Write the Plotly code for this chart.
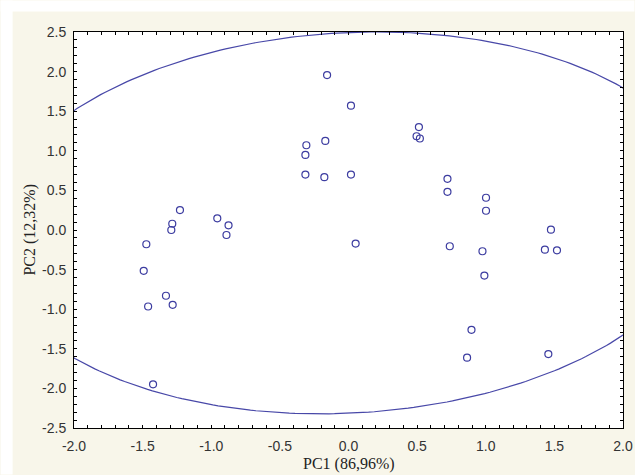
import numpy as np
import plotly.graph_objects as go

# PCA scores (PC1, PC2)
pc1 = [-1.228, -1.284, -1.291, -1.473, -1.492, -1.330, -1.281, -1.460, -1.424,
       -0.956, -0.874, -0.889,
       -0.156, 0.018, -0.169, -0.307, -0.314, -0.314, -0.176, 0.018, 0.052,
       0.513, 0.496, 0.520,
       0.721, 0.721, 1.002, 1.002, 1.475,
       0.738, 0.976, 0.990, 1.431, 1.519, 0.896, 0.864, 1.456]
pc2 = [0.252, 0.079, 0.000, -0.180, -0.516, -0.830, -0.945, -0.966, -1.948,
       0.147, 0.059, -0.063,
       1.956, 1.570, 1.125, 1.070, 0.948, 0.700, 0.667, 0.700, -0.172,
       1.300, 1.184, 1.155,
       0.646, 0.482, 0.407, 0.243, 0.004,
       -0.205, -0.268, -0.575, -0.248, -0.256, -1.260, -1.612, -1.566]

# tick values and labels
x_tickvals = [-2.0, -1.5, -1.0, -0.5, 0.0, 0.5, 1.0, 1.5, 2.0]
x_ticktext = ["-2.0", "-1.5", "-1.0", "-0.5", "0.0", "0.5", "1.0", "1.5", "2.0"]
y_tickvals = [-2.5, -2.0, -1.5, -1.0, -0.5, 0.0, 0.5, 1.0, 1.5, 2.0, 2.5]
y_ticktext = ["-2.5", "-2.0", "-1.5", "-1.0", "-0.5", "0.0", "0.5", "1.0", "1.5", "2.0", "2.5"]
x_title = "PC1 (86,96%)"
y_title = "PC2 (12,32%)"

# confidence ellipse parameters (center, semi-axes, rotation in degrees)
ell_center = (0.0, 0.09)
ell_axes = (2.667, 2.372)
ell_angle = 20.9

t = np.linspace(0, 2 * np.pi, 400)
th = np.deg2rad(ell_angle)
ex = ell_center[0] + ell_axes[0] * np.cos(t) * np.cos(th) - ell_axes[1] * np.sin(t) * np.sin(th)
ey = ell_center[1] + ell_axes[0] * np.cos(t) * np.sin(th) + ell_axes[1] * np.sin(t) * np.cos(th)

blue = "#3c3ca0"
cream = "#f8f6ea"

fig = go.Figure()
fig.add_trace(go.Scatter(x=ex, y=ey, mode="lines",
                         line=dict(color="#4848a8", width=1.2),
                         hoverinfo="skip", showlegend=False))
fig.add_trace(go.Scatter(x=pc1, y=pc2, mode="markers",
                         marker=dict(symbol="circle-open", size=7,
                                     color=blue, line=dict(width=1.2, color=blue)),
                         showlegend=False))

L, R, T, B = 73.5, 11.5, 31.5, 46.5
W, H = 635, 475
pw, ph = W - L - R, H - T - B

def px2x(p):
    return (p - L) / pw

def py2y(p):
    return (H - B - p) / ph

fig.add_shape(type="rect", xref="paper", yref="paper",
              x0=px2x(0), x1=px2x(W), y0=py2y(0), y1=py2y(11),
              fillcolor="white", line_width=0, layer="below")
fig.add_shape(type="rect", xref="paper", yref="paper",
              x0=px2x(0), x1=px2x(12), y0=py2y(0), y1=py2y(H),
              fillcolor="white", line_width=0, layer="below")

tickfont = dict(family="Liberation Sans, Arial, sans-serif", size=14, color="#333333")
titlefont = dict(family="Liberation Serif, Times New Roman, serif", size=16, color="#222222")

fig.add_annotation(text=x_title, xref="paper", yref="paper", x=0.5, y=py2y(465),
                   xanchor="center", yanchor="middle", showarrow=False, font=titlefont)
fig.add_annotation(text=y_title, xref="paper", yref="paper", x=px2x(29), y=0.5,
                   xanchor="center", yanchor="middle", textangle=-90,
                   showarrow=False, font=titlefont)

axis_common = dict(showline=True, linecolor="black", linewidth=1, mirror="ticks",
                   ticks="inside", ticklen=3, tickcolor="black", tickwidth=1,
                   showgrid=False, zeroline=False, tickmode="array",
                   tickfont=tickfont,
                   minor=dict(dtick=0.1, ticks="inside", ticklen=3, tickcolor="black",
                              showgrid=False))

fig.update_xaxes(range=[-2, 2], tickvals=x_tickvals, ticktext=x_ticktext,
                 ticklabelstandoff=5, **axis_common)
fig.update_yaxes(range=[-2.5, 2.5], tickvals=y_tickvals, ticktext=y_ticktext,
                 ticklabelstandoff=4, **axis_common)

fig.update_layout(width=W, height=H,
                  margin=dict(l=L, r=R, t=T, b=B, pad=0, autoexpand=False),
                  paper_bgcolor=cream, plot_bgcolor="white",
                  showlegend=False)

fig.write_html("out.html")
